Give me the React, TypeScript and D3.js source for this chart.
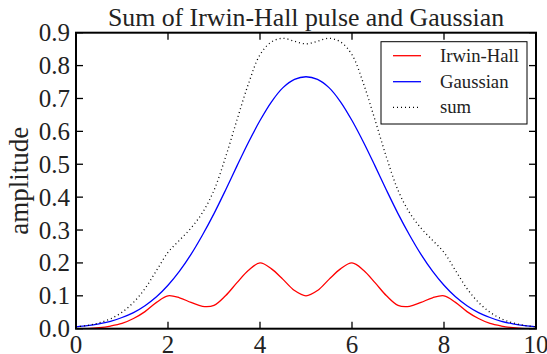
import React from "react";
import * as d3 from "d3";

// Sample positions along the time axis
const xs: number[] = [
  0, 0.25, 0.5, 0.75, 1, 1.25, 1.5, 1.75, 2, 2.25, 2.5, 2.75, 3, 3.25, 3.5, 3.75, 4, 4.25, 4.5, 4.75,
  5, 5.25, 5.5, 5.75, 6, 6.25, 6.5, 6.75, 7, 7.25, 7.5, 7.75, 8, 8.25, 8.5, 8.75, 9, 9.25, 9.5, 9.75, 10,
];

// Irwin-Hall pulse train
const irwinHall: number[] = [
  0, 0.0005, 0.003, 0.008, 0.016, 0.031, 0.052, 0.08, 0.1, 0.094, 0.08, 0.068, 0.071, 0.1, 0.14, 0.178, 0.2, 0.182, 0.15, 0.116,
  0.1, 0.116, 0.15, 0.182, 0.2, 0.178, 0.14, 0.1, 0.071, 0.068, 0.08, 0.094, 0.1, 0.08, 0.052, 0.031, 0.016, 0.008, 0.003, 0.0005, 0,
];

// Gaussian bump centred at 5
const gaussian: number[] = [
  0.0058, 0.0093, 0.0147, 0.022, 0.034, 0.049, 0.07, 0.097, 0.132, 0.175, 0.226, 0.285, 0.35, 0.421, 0.495, 0.567, 0.633, 0.69, 0.733, 0.758,
  0.766, 0.758, 0.733, 0.69, 0.633, 0.567, 0.495, 0.421, 0.35, 0.285, 0.226, 0.175, 0.132, 0.097, 0.07, 0.049, 0.034, 0.022, 0.0147, 0.0093, 0.0058,
];

const xTicks: number[] = [0, 2, 4, 6, 8, 10];
const yTicks: number[] = [0, 0.1, 0.2, 0.3, 0.4, 0.5, 0.6, 0.7, 0.8, 0.9];

const seriesNames: string[] = ["Irwin-Hall", "Gaussian", "sum"];

const W = 547;
const H = 354;
const M = { left: 76, right: 11, top: 32.7, bottom: 25.3 };
const txt = { fontFamily: '"Liberation Serif"', fill: "#222" };

export default function App() {
  const x = d3.scaleLinear().domain([0, 10]).range([M.left, W - M.right]);
  const y = d3.scaleLinear().domain([0, 0.9]).range([H - M.bottom, M.top]);

  const sum = xs.map((_, i) => irwinHall[i] + gaussian[i]);

  const line = d3
    .line<number>()
    .x((_, i) => x(xs[i]))
    .y((d) => y(d))
    .curve(d3.curveCatmullRom.alpha(0.5));

  const styles = [
    { stroke: "#ff0000", dash: undefined as string | undefined, data: irwinHall },
    { stroke: "#0000ff", dash: undefined as string | undefined, data: gaussian },
    { stroke: "#000000", dash: "1,3", data: sum },
  ];

  const x0 = x(0), x1 = x(10), y0 = y(0), y1 = y(0.9);
  const tickLen = 7;

  const legend = { x: 381, y: 41.7, w: 146, h: 82.3 };
  const rows = [55.7, 81.7, 107.3];

  return (
    <svg
      width={W}
      height={H}
      style={{ position: "absolute", left: 0, top: 0, background: "#fff" }}
    >
      <defs>
        <clipPath id="plot-clip">
          <rect x={x0} y={y1} width={x1 - x0} height={y0 - y1} />
        </clipPath>
      </defs>
      <rect x={0} y={0} width={W} height={H} fill="#fff" />

      <g clipPath="url(#plot-clip)">
        {styles.map((s, i) => (
          <path
            key={i}
            d={line(s.data) ?? ""}
            fill="none"
            stroke={s.stroke}
            strokeWidth={1.3}
            strokeDasharray={s.dash}
          />
        ))}
      </g>

      {/* ticks on all four sides, pointing inward */}
      <g stroke="#000" strokeWidth={1.3}>
        {xTicks.map((t) => (
          <g key={"x" + t}>
            <line x1={x(t)} x2={x(t)} y1={y0} y2={y0 - tickLen} />
            <line x1={x(t)} x2={x(t)} y1={y1} y2={y1 + tickLen} />
          </g>
        ))}
        {yTicks.map((t) => (
          <g key={"y" + t}>
            <line x1={x0} x2={x0 + tickLen} y1={y(t)} y2={y(t)} />
            <line x1={x1} x2={x1 - tickLen} y1={y(t)} y2={y(t)} />
          </g>
        ))}
      </g>

      <rect x={x0} y={y1} width={x1 - x0} height={y0 - y1} fill="none" stroke="#000" strokeWidth={2} />

      {xTicks.map((t) => (
        <text key={"xl" + t} x={x(t)} y={352.5} textAnchor="middle" fontSize={25} style={txt}>
          {t}
        </text>
      ))}
      {yTicks.map((t) => (
        <text
          key={"yl" + t}
          x={70}
          y={y(t)}
          dy="0.34em"
          textAnchor="end"
          fontSize={25}
          style={txt}
        >
          {t.toFixed(1)}
        </text>
      ))}

      <text x={(x0 + x1) / 2} y={26} textAnchor="middle" fontSize={25.8} style={txt}>
        Sum of Irwin-Hall pulse and Gaussian
      </text>
      <text
        transform={`translate(28, ${(y0 + y1) / 2}) rotate(-90)`}
        textAnchor="middle"
        fontSize={27}
        style={txt}
      >
        amplitude
      </text>

      <g>
        <rect x={legend.x} y={legend.y} width={legend.w} height={legend.h} fill="#fff" stroke="#000" strokeWidth={1} />
        {styles.map((s, i) => (
          <g key={"lg" + i}>
            <line
              x1={393}
              x2={421}
              y1={rows[i]}
              y2={rows[i]}
              stroke={s.stroke}
              strokeWidth={1.3}
              strokeDasharray={s.dash}
            />
            <text x={440} y={rows[i]} dy="0.33em" fontSize={18.7} style={txt}>
              {seriesNames[i]}
            </text>
          </g>
        ))}
      </g>
    </svg>
  );
}
